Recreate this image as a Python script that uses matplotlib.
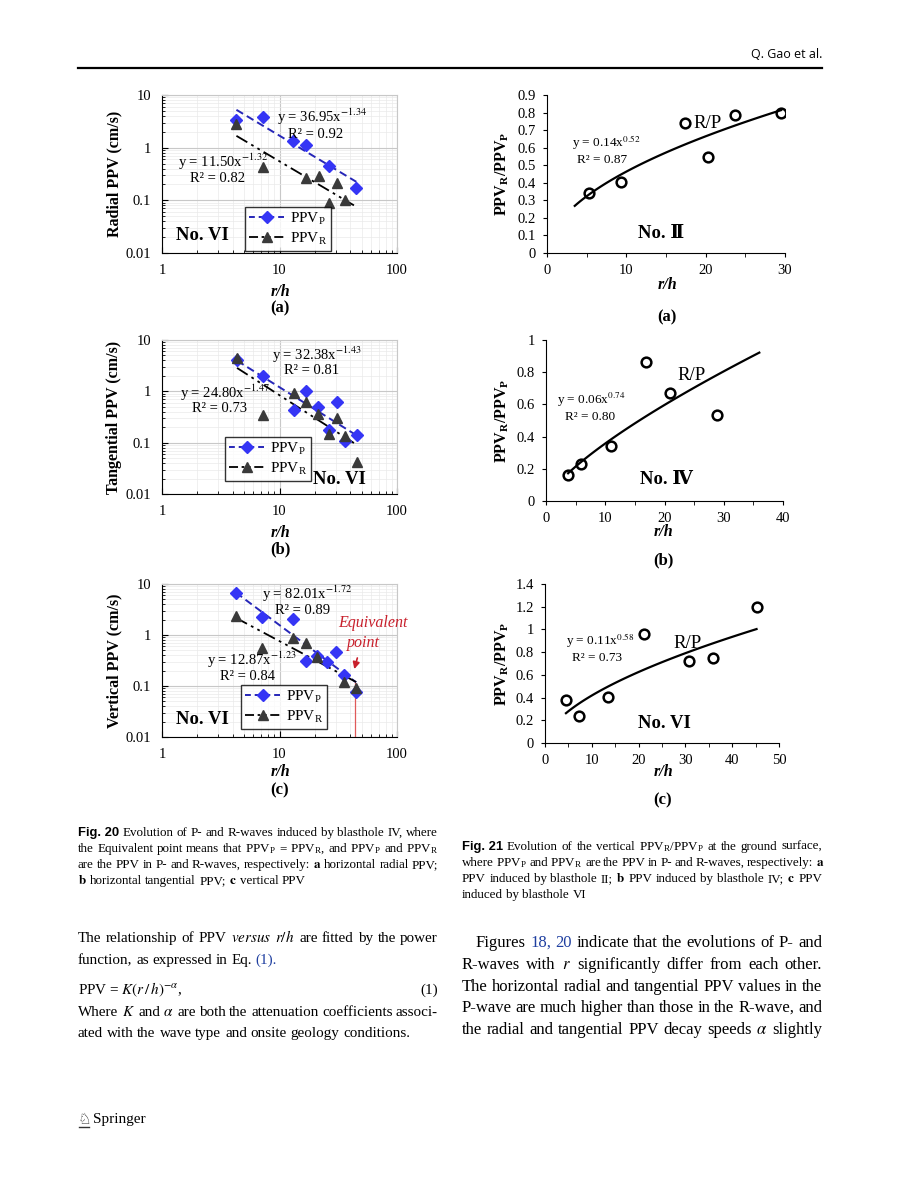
import matplotlib
matplotlib.use("Agg")
import matplotlib.pyplot as plt
import numpy as np
from matplotlib import ticker
from matplotlib.lines import Line2D

W, H = 900, 1195

plt.rcParams['font.family'] = ['Liberation Serif', 'DejaVu Serif']
plt.rcParams['mathtext.fontset'] = 'stix'

# ---- Fig. 20 : PPV vs r/h, blasthole VI ----
rad_p_x = [4.3, 7.3, 13.0, 16.8, 26.2, 45.1]
rad_p_y = [3.34, 3.87, 1.35, 1.12, 0.446, 0.168]
rad_r_x = [4.3, 7.2, 16.8, 21.5, 26.2, 30.9, 36.3]
rad_r_y = [2.77, 0.433, 0.267, 0.292, 0.0896, 0.215, 0.100]

tan_p_x = [4.35, 7.24, 13.2, 16.8, 21.1, 26.2, 30.9, 35.9, 45.7]
tan_p_y = [4.08, 2.03, 0.436, 1.0, 0.506, 0.178, 0.614, 0.109, 0.140]
tan_r_x = [4.35, 7.24, 13.2, 16.8, 21.1, 26.2, 30.9, 35.9, 45.7]
tan_r_y = [4.4, 0.348, 0.946, 0.633, 0.364, 0.147, 0.300, 0.132, 0.042]

ver_p_x = [4.25, 7.06, 13.0, 16.7, 20.9, 25.5, 30.0, 35.3, 44.9]
ver_p_y = [6.56, 2.28, 2.02, 0.312, 0.385, 0.289, 0.469, 0.163, 0.077]
ver_r_x = [4.25, 7.06, 13.0, 16.7, 20.9, 35.3, 44.9]
ver_r_y = [2.35, 0.561, 0.857, 0.683, 0.373, 0.121, 0.092]

# power fits (K, exponent) and x ranges of the trend lines
rad_fit_p, rad_fit_r = (36.95, -1.34), (11.50, -1.32)
tan_fit_p, tan_fit_r = (32.38, -1.43), (24.80, -1.47)
ver_fit_p, ver_fit_r = (82.01, -1.72), (12.87, -1.23)
rad_rng_p, rad_rng_r = (4.3, 45.1), (4.3, 43.0)
tan_rng_p, tan_rng_r = (4.35, 45.7), (4.35, 43.0)
ver_rng_p, ver_rng_r = (4.25, 44.9), (4.25, 44.9)
equiv_x = 44.0

# ---- Fig. 21 : PPV_R / PPV_P ----
r2_x = [5.33, 9.31, 17.39, 20.3, 23.66, 29.5]
r2_y = [0.341, 0.404, 0.739, 0.549, 0.784, 0.798]
r4_x = [3.73, 5.99, 10.9, 16.95, 20.96, 28.8]
r4_y = [0.164, 0.232, 0.342, 0.861, 0.672, 0.537]
r6_x = [4.48, 7.33, 13.37, 21.2, 30.8, 35.9, 45.2]
r6_y = [0.375, 0.234, 0.404, 0.958, 0.726, 0.747, 1.195]
r2_fit, r2_rng = (0.14, 0.52), (3.5, 29.5)
r4_fit, r4_rng = (0.065, 0.74), (3.73, 36.0)
r6_fit, r6_rng = (0.11, 0.58), (4.48, 45.2)

P_MARK = '#3535F5'
P_LINE = '#2626B8'
R_MARK = '#3A3A3A'
RED = '#C8202C'

fig = plt.figure(figsize=(W / 100, H / 100), dpi=100)
renderer = fig.canvas.get_renderer()


def box(x0, y0, x1, y1):
    return [x0 / W, 1 - y1 / H, (x1 - x0) / W, (y1 - y0) / H]


def txt(x, y, s, **kw):
    kw.setdefault('va', 'center')
    return fig.text(x / W, 1 - y / H, s, **kw)


def ppv_panel(rect, px, py, rx, ry, fp, fr, rp, rr, ylabel, leg_xy):
    ax = fig.add_axes(box(*rect))
    ax.set_xscale('log')
    ax.set_yscale('log')
    xs = np.geomspace(*rp, 60)
    ax.plot(xs, fp[0] * xs ** fp[1], color=P_LINE, ls=(0, (4, 2.2)), lw=1.4, zorder=2)
    xs = np.geomspace(*rr, 60)
    ax.plot(xs, fr[0] * xs ** fr[1], color='black',
            ls=(0, (7, 2.5, 1.5, 2.5, 1.5, 2.5)), lw=1.3, zorder=2)
    ax.plot(px, py, 'D', ms=6, color=P_MARK, zorder=3)
    ax.plot(rx, ry, '^', ms=6.5, color=R_MARK, zorder=4)
    ax.set_xlim(1, 100)
    ax.set_ylim(0.01, 10)
    fmt = ticker.FuncFormatter(lambda v, p: f'{v:g}')
    ax.xaxis.set_major_formatter(fmt)
    ax.yaxis.set_major_formatter(fmt)
    ax.xaxis.set_minor_formatter(ticker.NullFormatter())
    ax.yaxis.set_minor_formatter(ticker.NullFormatter())
    ax.grid(True, which='major', color='#C8C8C8', lw=0.8)
    ax.grid(True, which='minor', color='#EAEAEA', lw=0.5)
    ax.set_axisbelow(True)
    ax.tick_params(which='both', direction='in', labelsize=10.5, pad=8)
    ax.tick_params(which='major', length=4)
    ax.tick_params(which='minor', length=2.5)
    for s in ('top', 'right'):
        ax.spines[s].set_color('#C8C8C8')
    handles = [
        Line2D([], [], color=P_LINE, ls=(0, (3, 2)), lw=1.4, marker='D', ms=6,
               mfc=P_MARK, mec=P_MARK),
        Line2D([], [], color='black', ls=(0, (5, 2, 1.5, 2, 1.5, 2)), lw=1.3,
               marker='^', ms=6.5, mfc=R_MARK, mec=R_MARK)]
    leg = ax.legend(handles, ['PPV$_\\mathregular{P}$', 'PPV$_\\mathregular{R}$'],
                    loc='upper left', bbox_to_anchor=leg_xy, fontsize=11,
                    frameon=True, fancybox=False, edgecolor='black',
                    borderpad=0.25, labelspacing=0.25, handlelength=2.4,
                    handletextpad=0.3, borderaxespad=0)
    leg.get_frame().set_linewidth(1.0)
    x0, y0, x1, y1 = rect
    txt(114, (y0 + y1) / 2, ylabel, rotation=90, ha='center', fontsize=11.5,
        fontweight='bold')
    return ax


def ratio_panel(rect, x, y, fit, rng, xmax, ymax, ystep):
    ax = fig.add_axes(box(*rect))
    xs = np.linspace(*rng, 80)
    ax.plot(xs, fit[0] * xs ** fit[1], color='black', lw=1.6)
    ax.plot(x, y, 'o', ms=7, mfc='none', mec='black', mew=1.8)
    ax.set_xlim(0, xmax)
    ax.set_ylim(0, ymax)
    ax.xaxis.set_major_locator(ticker.MultipleLocator(10))
    ax.xaxis.set_minor_locator(ticker.MultipleLocator(5))
    ax.yaxis.set_major_locator(ticker.MultipleLocator(ystep))
    fmt = ticker.FuncFormatter(lambda v, p: f'{round(v, 2):g}')
    ax.xaxis.set_major_formatter(fmt)
    ax.yaxis.set_major_formatter(fmt)
    for s in ('top', 'right'):
        ax.spines[s].set_visible(False)
    ax.tick_params(which='both', direction='out', length=3, labelsize=10.5, pad=5)
    x0, y0, x1, y1 = rect
    txt(502, (y0 + y1) / 2, 'PPV$_\\mathregular{R}$/PPV$_\\mathregular{P}$',
        rotation=90, ha='center', fontsize=11.5, fontweight='bold')
    return ax


# ---- left column (Fig. 20) ----
ppv_panel((162, 95, 397, 253), rad_p_x, rad_p_y, rad_r_x, rad_r_y,
          rad_fit_p, rad_fit_r, rad_rng_p, rad_rng_r, 'Radial PPV (cm/s)', (0.353, 0.291))
ppv_panel((162, 340, 397, 494), tan_p_x, tan_p_y, tan_r_x, tan_r_y,
          tan_fit_p, tan_fit_r, tan_rng_p, tan_rng_r, 'Tangential PPV (cm/s)', (0.268, 0.370))
axc = ppv_panel((162, 584, 397, 737), ver_p_x, ver_p_y, ver_r_x, ver_r_y,
                ver_fit_p, ver_fit_r, ver_rng_p, ver_rng_r, 'Vertical PPV (cm/s)', (0.336, 0.340))
axc.plot([equiv_x, equiv_x], [0.01, 0.115], color='#E05A5A', lw=0.9, zorder=2)
axc.annotate('', xy=(equiv_x * 0.97, 0.19), xytext=(equiv_x * 1.06, 0.40),
             arrowprops=dict(arrowstyle='-|>', color=RED, lw=1.2, mutation_scale=10))

eq_kw = dict(fontsize=10.5, ha='left')
txt(277, 117, 'y = 36.95x$^{-1.34}$', **eq_kw)
txt(288, 134, 'R² = 0.92', **eq_kw)
txt(178, 162, 'y = 11.50x$^{-1.32}$', **eq_kw)
txt(190, 178, 'R² = 0.82', **eq_kw)
txt(176, 235, 'No. VI', fontsize=13.5, fontweight='bold', ha='left')

txt(272, 355, 'y = 32.38x$^{-1.43}$', **eq_kw)
txt(284, 371, 'R² = 0.81', **eq_kw)
txt(180, 393, 'y = 24.80x$^{-1.47}$', **eq_kw)
txt(192, 409, 'R² = 0.73', **eq_kw)
txt(313, 479, 'No. VI', fontsize=13.5, fontweight='bold', ha='left')

txt(262, 594, 'y = 82.01x$^{-1.72}$', **eq_kw)
txt(275, 610, 'R² = 0.89', **eq_kw)
txt(207, 660, 'y = 12.87x$^{-1.23}$', **eq_kw)
txt(220, 676, 'R² = 0.84', **eq_kw)
txt(176, 720, 'No. VI', fontsize=13.5, fontweight='bold', ha='left')
txt(373, 623, 'Equivalent', fontsize=11.5, style='italic', color=RED, ha='center')
txt(363, 643, 'point', fontsize=11.5, style='italic', color=RED, ha='center')

for yl, ys, lab in ((292, 308, '(a)'), (533, 549, '(b)'), (772, 790, '(c)')):
    txt(280, yl, 'r/h', fontsize=11.5, fontweight='bold', style='italic', ha='center')
    txt(280, ys, lab, fontsize=12, fontweight='bold', ha='center')

# ---- right column (Fig. 21) ----
ratio_panel((547, 95, 785, 253), r2_x, r2_y, r2_fit, r2_rng, 30, 0.9, 0.1)
ratio_panel((546, 340, 783, 501), r4_x, r4_y, r4_fit, r4_rng, 40, 1.0, 0.2)
ratio_panel((545, 584, 779, 743), r6_x, r6_y, r6_fit, r6_rng, 50, 1.4, 0.2)

eq2_kw = dict(fontsize=9.5, ha='left')
rn_kw = dict(fontsize=13.5, fontweight='bold', ha='left')
txt(572, 143, 'y = 0.14x$^{0.52}$', **eq2_kw)
txt(577, 160, 'R² = 0.87', **eq2_kw)
txt(693, 124, 'R/P', fontsize=13.5, ha='left')
txt(638, 234, 'No. Ⅱ', **rn_kw)

txt(557, 400, 'y = 0.06x$^{0.74}$', **eq2_kw)
txt(565, 417, 'R² = 0.80', **eq2_kw)
txt(677, 375, 'R/P', fontsize=13.5, ha='left')
txt(640, 480, 'No. Ⅳ', **rn_kw)

txt(566, 641, 'y = 0.11x$^{0.58}$', **eq2_kw)
txt(572, 658, 'R² = 0.73', **eq2_kw)
txt(673, 643, 'R/P', fontsize=13.5, ha='left')
txt(638, 724, 'No. VI', **rn_kw)

for xc, yl, ys, lab in ((667, 285, 317, '(a)'), (663, 532, 560, '(b)'), (663, 772, 800, '(c)')):
    txt(xc, yl, 'r/h', fontsize=11.5, fontweight='bold', style='italic', ha='center')
    txt(xc, ys, lab, fontsize=12, fontweight='bold', ha='center')

# ---- page furniture ----
txt(822, 55, 'Q. Gao et al.', fontsize=9, ha='right', family=['Open Sans', 'DejaVu Sans'])
fig.add_artist(Line2D([78 / W, 822 / W], [1 - 68 / H] * 2, color='black', lw=1.6))


def width(s, **kw):
    t = fig.text(0, 0, s, **kw)
    w = t.get_window_extent(renderer=renderer).width
    t.remove()
    return w


def jline(x0, x1, y, words, size, justify=True):
    # words: list of plain strings or (text, extra text kwargs)
    items = [(s, {}) if isinstance(s, str) else s for s in words]
    ws = [width(s, fontsize=size, **kw) for s, kw in items]
    space = width('a a', fontsize=size) - width('aa', fontsize=size)
    gap = space
    if justify and len(items) > 1:
        gap = max((x1 - x0 - sum(ws)) / (len(items) - 1), 0.75 * space)
    cx = x0
    for (s, kw), w in zip(items, ws):
        fig.text(cx / W, 1 - y / H, s, fontsize=size, va='baseline', ha='left', **kw)
        cx += w + gap


def words(s):
    return s.split(' ')


BLUE = '#1F3FA0'
FIGKW = dict(family=['Liberation Sans Narrow', 'Liberation Sans'], fontweight='bold')
cs = 9.4
LX0, LX1, RX0, RX1 = 78, 438, 462, 822

jline(LX0, LX1, 836, [('Fig. 20', FIGKW)] + words('Evolution of P- and R-waves induced by blasthole IV, where'), cs)
jline(LX0, LX1, 852, words('the Equivalent point means that PPV$_\\mathregular{P}$ = PPV$_\\mathregular{R}$, and PPV$_\\mathregular{P}$ and PPV$_\\mathregular{R}$'), cs)
jline(LX0, LX1, 868, words('are the PPV in P- and R-waves, respectively: $\\mathbf{a}$ horizontal radial PPV;'), cs)
jline(LX0, LX1, 884, words('$\\mathbf{b}$ horizontal tangential PPV; $\\mathbf{c}$ vertical PPV'), cs, justify=False)

jline(RX0, RX1, 850, [('Fig. 21', FIGKW)] + words('Evolution of the vertical PPV$_\\mathregular{R}$/PPV$_\\mathregular{P}$ at the ground surface,'), cs)
jline(RX0, RX1, 866, words('where PPV$_\\mathregular{P}$ and PPV$_\\mathregular{R}$ are the PPV in P- and R-waves, respectively: $\\mathbf{a}$'), cs)
jline(RX0, RX1, 882, words('PPV induced by blasthole II; $\\mathbf{b}$ PPV induced by blasthole IV; $\\mathbf{c}$ PPV'), cs)
jline(RX0, RX1, 898, words('induced by blasthole VI'), cs, justify=False)

bs = 10.9
jline(LX0, LX1, 942, words('The relationship of PPV $\\mathit{versus}$ $\\mathit{r/h}$ are fitted by the power'), bs)
jline(LX0, LX1, 964, words('function, as expressed in Eq.') + [('(1).', dict(color=BLUE))], bs, justify=False)
fig.text(LX0 / W, 1 - 994 / H, 'PPV = $K(r\\,/\\,h)^{-\\alpha}$,', fontsize=bs, va='baseline')
fig.text(LX1 / W, 1 - 994 / H, '(1)', fontsize=bs, va='baseline', ha='right')
jline(LX0, LX1, 1016, words('Where $K$ and $\\alpha$ are both the attenuation coefficients associ-'), bs)
jline(LX0, LX1, 1037, words('ated with the wave type and onsite geology conditions.'), bs, justify=False)

rs = 12.0
jline(RX0 + 14, RX1, 947, ['Figures', ('18,', dict(color=BLUE)), ('20', dict(color=BLUE))] +
      words('indicate that the evolutions of P- and'), rs)
jline(RX0, RX1, 969, words('R-waves with $r$ significantly differ from each other.'), rs)
jline(RX0, RX1, 991, words('The horizontal radial and tangential PPV values in the'), rs)
jline(RX0, RX1, 1012, words('P-wave are much higher than those in the R-wave, and'), rs)
jline(RX0, RX1, 1034, words('the radial and tangential PPV decay speeds $\\alpha$ slightly'), rs)

txt(84, 1120, '♘', fontsize=11, ha='center', family=['DejaVu Sans'], color='#333333')
fig.add_artist(Line2D([79 / W, 89 / W], [1 - 1127 / H] * 2, color='#333333', lw=1.0))
txt(93, 1120, 'Springer', fontsize=11, ha='left')

fig.savefig('out.png', dpi=100)
